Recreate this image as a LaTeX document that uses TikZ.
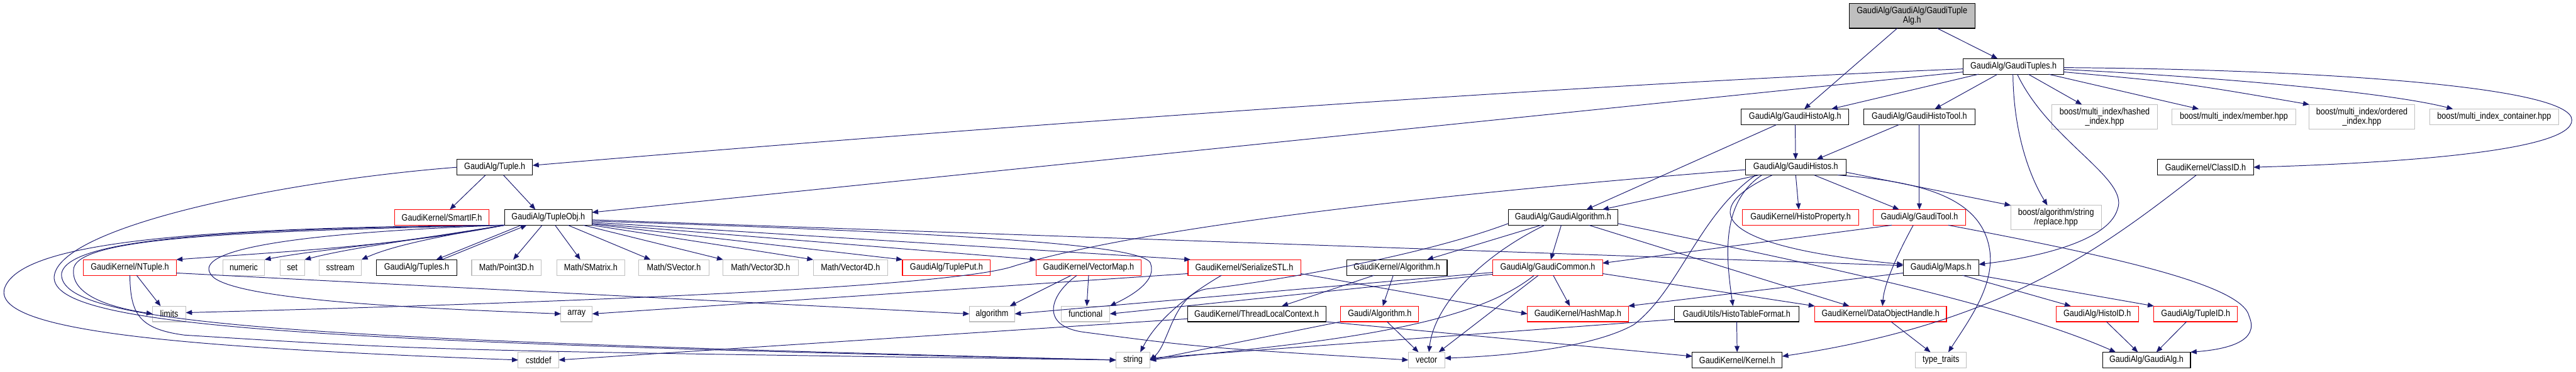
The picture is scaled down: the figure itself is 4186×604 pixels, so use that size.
\documentclass[tikz,border=0pt]{standalone}
\usepackage{fontspec}
\setmainfont{Liberation Sans}[FakeStretch=0.86]
\usetikzlibrary{arrows.meta}
\definecolor{edgeblue}{HTML}{191970}
\definecolor{grey75}{HTML}{BFBFBF}
\tikzset{
  nd/.style={draw, line width=1.1pt, inner sep=0pt, outer sep=0pt, minimum height=25.5pt,
             font=\fontsize{15}{15}\selectfont, align=center, text=black},
  bk/.style={nd, draw=black},
  rd/.style={nd, draw=red},
  gy/.style={nd, draw=grey75},
  conn/.style={draw=edgeblue, line width=1pt, -{Triangle[length=10pt,width=8pt]}}
}
\begin{document}
\begin{tikzpicture}[x=1pt,y=-1pt]
\path[use as bounding box] (0,0) rectangle (4186,604);
% row 1-4
\node[bk,fill=grey75,minimum width=204pt,minimum height=40pt] (root) at (3107,26) {GaudiAlg/GaudiAlg/GaudiTuple\\Alg.h};
\node[bk,minimum width=163pt] (tuples) at (3272,108) {GaudiAlg/GaudiTuples.h};
\node[bk,minimum width=175pt] (histoalg) at (2917,190) {GaudiAlg/GaudiHistoAlg.h};
\node[bk,minimum width=180pt] (histotool) at (3119,190) {GaudiAlg/GaudiHistoTool.h};
\node[gy,minimum width=171pt,minimum height=40pt] (hashed) at (3420,190) {boost/multi\_index/hashed\\\_index.hpp};
\node[gy,minimum width=201pt] (member) at (3630,190) {boost/multi\_index/member.hpp};
\node[gy,minimum width=171pt,minimum height=40pt] (ordered) at (3838,190) {boost/multi\_index/ordered\\\_index.hpp};
\node[gy,minimum width=209pt] (container) at (4053,190) {boost/multi\_index\_container.hpp};
\node[bk,minimum width=123pt] (tuple) at (804,272) {GaudiAlg/Tuple.h};
\node[bk,minimum width=163pt] (histos) at (2918,272) {GaudiAlg/GaudiHistos.h};
\node[bk,minimum width=156pt] (classid) at (3584,272) {GaudiKernel/ClassID.h};
% row 5
\node[rd,minimum width=154pt] (smartif) at (718,353.5) {GaudiKernel/SmartIF.h};
\node[bk,minimum width=142pt] (tupleobj) at (891,353.5) {GaudiAlg/TupleObj.h};
\node[bk,minimum width=178pt] (galgo) at (2540,353.5) {GaudiAlg/GaudiAlgorithm.h};
\node[rd,minimum width=189pt] (histoprop) at (2926,353.5) {GaudiKernel/HistoProperty.h};
\node[rd,minimum width=150pt] (gtool) at (3119,353.5) {GaudiAlg/GaudiTool.h};
\node[gy,minimum width=147pt,minimum height=40pt] (replace) at (3341,354) {boost/algorithm/string\\/replace.hpp};
% row 6
\node[rd,minimum width=151pt] (ntuple) at (211,435) {GaudiKernel/NTuple.h};
\node[gy,minimum width=68pt] (numeric) at (396,435) {numeric};
\node[gy,minimum width=40pt] (set) at (475,435) {set};
\node[gy,minimum width=69pt] (sstream) at (553,435) {sstream};
\node[bk,minimum width=130pt] (tuplesh) at (677,435) {GaudiAlg/Tuples.h};
\node[gy,minimum width=113pt] (point) at (823,435) {Math/Point3D.h};
\node[gy,minimum width=111pt] (smatrix) at (960,435) {Math/SMatrix.h};
\node[gy,minimum width=114pt] (svector) at (1095,435) {Math/SVector.h};
\node[gy,minimum width=122pt] (vthree) at (1236,435) {Math/Vector3D.h};
\node[gy,minimum width=121pt] (vfour) at (1382,435) {Math/Vector4D.h};
\node[rd,minimum width=143pt] (tupleput) at (1538,435) {GaudiAlg/TuplePut.h};
\node[rd,minimum width=171pt] (vecmap) at (1769,435) {GaudiKernel/VectorMap.h};
\node[rd,minimum width=183pt] (serial) at (2022,435) {GaudiKernel/SerializeSTL.h};
\node[bk,minimum width=163pt] (kalgo) at (2270,435) {GaudiKernel/Algorithm.h};
\node[rd,minimum width=178pt] (common) at (2515,435) {GaudiAlg/GaudiCommon.h};
\node[bk,minimum width=123pt] (maps) at (3154,435) {GaudiAlg/Maps.h};
% row 7
\node[gy,minimum width=54pt] (limits) at (275,510.5) {limits};
\node[gy,minimum width=51pt] (array) at (937,510.5) {array};
\node[gy,minimum width=74pt] (algorithm) at (1612,510.5) {algorithm};
\node[gy,minimum width=79pt] (functional) at (1764,510.5) {functional};
\node[bk,minimum width=225pt] (tlc) at (2042,510.5) {GaudiKernel/ThreadLocalContext.h};
\node[rd,minimum width=127pt] (galg) at (2242,510.5) {Gaudi/Algorithm.h};
\node[rd,minimum width=164pt] (hashmap) at (2564,510.5) {GaudiKernel/HashMap.h};
\node[bk,minimum width=203pt] (htf) at (2822,510.5) {GaudiUtils/HistoTableFormat.h};
\node[rd,minimum width=214pt] (doh) at (3056,510.5) {GaudiKernel/DataObjectHandle.h};
\node[rd,minimum width=134pt] (histoid) at (3408,510.5) {GaudiAlg/HistoID.h};
\node[rd,minimum width=136pt] (tupleid) at (3568,510.5) {GaudiAlg/TupleID.h};
% row 8
\node[gy,minimum width=66pt] (cstddef) at (875,585.5) {cstddef};
\node[gy,minimum width=55pt] (string) at (1841,585.5) {string};
\node[gy,minimum width=59pt] (vector) at (2318,585.5) {vector};
\node[bk,minimum width=146pt] (kernel) at (2823,585.5) {GaudiKernel/Kernel.h};
\node[gy,minimum width=83pt] (typetraits) at (3154,585.5) {type\_traits};
\node[bk,minimum width=143pt] (gaudialg) at (3488,585.5) {GaudiAlg/GaudiAlg.h};

% ---- edges: root
\draw[conn] ([xshift=-24pt]root.south) -- ([xshift=15pt]histoalg.north);
\draw[conn] ([xshift=41pt]root.south) -- ([xshift=-26pt]tuples.north);
% ---- GaudiTuples.h
\draw[conn] ([xshift=-57pt]tuples.south) -- ([xshift=59pt]histoalg.north);
\draw[conn] ([xshift=-26pt]tuples.south) -- ([xshift=25pt]histotool.north);
\draw[conn] ([xshift=24pt]tuples.south) -- ([xshift=-37pt]hashed.north);
\draw[conn] ([xshift=57pt]tuples.south) -- ([xshift=-57pt]member.north);
\draw[conn] ([yshift=-9pt]tuples.east) .. controls (3550,135) .. (ordered.north west);
\draw[conn] ([yshift=-5pt]tuples.east) .. controls (3600,125) and (3880,150) .. ([xshift=-67pt]container.north);
\draw[conn] ([yshift=-2pt]tuples.east) .. controls (3700,112) and (4150,135) .. (4178,190) .. controls (4200,245) and (3900,265) .. (classid.east);
\draw[conn] ([xshift=-1pt]tuples.south) .. controls (3272,220) and (3300,290) .. ([xshift=-14pt]replace.north);
\draw[conn] ([xshift=6pt]tuples.south) .. controls (3330,230) and (3460,290) .. (3441,340) .. controls (3425,395) and (3300,420) .. ([yshift=5pt]maps.east);
\draw[conn] ([yshift=-4pt]tuples.west) .. controls (2500,140) and (1500,215) .. ([yshift=3pt]tuple.east);
\draw[conn] ([yshift=-9pt]tuples.west) -- ([yshift=8pt]tupleobj.east);
% ---- histo algs / tools
\draw[conn] (histoalg) -- (histos);
\draw[conn] ([xshift=-30pt]histoalg.south) -- ([xshift=38pt]galgo.north);
\draw[conn] ([xshift=-33pt]histotool.south) -- ([xshift=34pt]histos.north);
\draw[conn] (histotool) -- (gtool);
% ---- GaudiHistos.h
\draw[conn] ([xshift=-60pt]histos.south) -- ([xshift=64pt]galgo.north);
\draw[conn] (histos.south) -- ([xshift=-3pt]histoprop.north);
\draw[conn] ([xshift=30pt]histos.south) -- ([xshift=-33pt]gtool.north);
\draw[conn] ([yshift=-8pt]histos.east) -- (replace.north west);
\draw[conn] ([xshift=68pt]histos.south) .. controls (3120,295) and (3215,320) .. (3232,400) .. controls (3245,460) and (3200,520) .. ([xshift=12pt]typetraits.north);
\draw[conn] ([xshift=-38pt]histos.south) .. controls (2760,340) and (2780,400) .. ([yshift=5pt]maps.west);
\draw[conn] ([xshift=-55pt]histos.south) .. controls (2795,330) and (2805,420) .. ([xshift=-6pt]htf.north);
\draw[conn] ([xshift=-65pt]histos.south) .. controls (2760,350) and (2730,470) .. (2655,528) .. controls (2580,570) and (2420,580) .. ([yshift=3pt]vector.east);
\draw[conn] ([yshift=-4pt]histos.west) .. controls (2300,318) and (1850,372) .. (1650,432) .. controls (1560,465) and (1000,490) .. ([yshift=2pt]limits.east);
% ---- Tuple.h
\draw[conn] ([xshift=-15pt]tuple.south) -- ([xshift=13pt]smartif.north);
\draw[conn] ([xshift=14pt]tuple.south) -- ([xshift=-21pt]tupleobj.north);
\draw[conn] (tuple.west) .. controls (450,295) and (95,370) .. (88,450) .. controls (84,532) and (500,556) .. (string.west);
% ---- TupleObj.h
\draw[conn] ([yshift=-4pt]tupleobj.east) -- ([yshift=3pt]maps.west);
\draw[conn] ([yshift=-6pt]tupleobj.east) .. controls (1600,380) and (1870,400) .. (1870,430) .. controls (1880,460) and (1830,485) .. (functional.north east);
\draw[conn] ([yshift=-8pt]tupleobj.east) -- ([xshift=4pt]serial.north west);
\draw[conn] ([yshift=-10pt]tupleobj.east) -- (vecmap.north west);
\draw[conn] ([yshift=-11pt]tupleobj.east) -- (tupleput.north west);
\draw[conn] (tupleobj.south east) -- (vfour.north west);
\draw[conn] ([xshift=57pt]tupleobj.south) -- (vthree.north west);
\draw[conn] ([xshift=32pt]tupleobj.south) -- ([xshift=-38pt]svector.north);
\draw[conn] ([xshift=11pt]tupleobj.south) -- ([xshift=-17pt]smatrix.north);
\draw[conn] ([xshift=-10pt]tupleobj.south) -- ([xshift=11pt]point.north);
\draw[conn] ([xshift=-44pt]tupleobj.south) -- ([xshift=32pt]tuplesh.north);
\draw[conn] ([xshift=41pt]tuplesh.north) -- ([xshift=-35pt]tupleobj.south);
\draw[conn] (tupleobj.south west) .. controls (690,388) and (630,403) .. (sstream.north east);
\draw[conn] (tupleobj.south west) .. controls (660,392) and (570,403) .. (set.north east);
\draw[conn] (tupleobj.south west) .. controls (650,396) and (520,405) .. (numeric.north east);
\draw[conn] (tupleobj.south west) .. controls (650,400) and (450,410) .. (ntuple.north east);
\draw[conn] ([xshift=-3pt]tupleobj.south west) .. controls (450,380) and (300,410) .. (348,452) .. controls (400,490) and (700,502) .. (array.west);
\draw[conn] (tupleobj.south west) .. controls (400,376) and (135,385) .. (120,435) .. controls (112,480) and (180,500) .. (limits.west);
\draw[conn] (tupleobj.south west) .. controls (400,372) and (110,385) .. (100,445) .. controls (95,530) and (500,552) .. (string.west);
\draw[conn] (tupleobj.south west) .. controls (300,370) and (30,395) .. (7,470) .. controls (-10,540) and (300,565) .. (cstddef.west);
% ---- NTuple.h
\draw[conn] ([xshift=11pt]ntuple.south) -- ([xshift=-14pt]limits.north);
\draw[conn] ([yshift=-9pt]ntuple.east) -- (algorithm.west);
\draw[conn] (ntuple.south) .. controls (212,510) and (225,535) .. (300,545) .. controls (700,570) .. (string.west);
% ---- SerializeSTL.h
\draw[conn] ([yshift=-10pt]serial.west) -- (array.east);
\draw[conn] ([xshift=-37pt]serial.south) .. controls (1930,480) and (1880,520) .. ([xshift=12pt]string.north);
\draw[conn] ([yshift=-10pt]serial.east) -- (hashmap.west);
% ---- VectorMap.h
\draw[conn] ([xshift=-28pt]vecmap.south) -- ([xshift=29pt]algorithm.north);
\draw[conn] (vecmap.south) -- ([xshift=2pt]functional.north);
\draw[conn] ([xshift=-19pt]vecmap.south) .. controls (1705,480) and (1690,530) .. (1760,540) .. controls (1950,565) .. (vector.west);
% ---- GaudiAlgorithm.h
\draw[conn] ([xshift=-36pt]galgo.south) -- ([xshift=49pt]kalgo.north);
\draw[conn] ([xshift=-3pt]galgo.south) -- ([xshift=5pt]common.north);
\draw[conn] ([xshift=-30pt]galgo.south) .. controls (2400,420) and (2330,500) .. ([xshift=4pt]vector.north);
\draw[conn] ([yshift=-10pt]galgo.west) .. controls (2300,420) and (2050,460) .. (1960,470) .. controls (1905,480) and (1900,560) .. (string.east);
\draw[conn] ([xshift=42pt]galgo.south) -- ([xshift=-51pt]doh.north);
\draw[conn] ([yshift=-10pt]galgo.east) .. controls (2900,420) and (3250,490) .. ([xshift=-50pt]gaudialg.north);
% ---- GaudiCommon.h
\draw[conn] ([yshift=-8pt]common.west) -- (algorithm.east);
\draw[conn] ([yshift=-11pt]common.west) -- (functional.east);
\draw[conn] ([xshift=9pt]common.south) -- ([xshift=-13pt]hashmap.north);
\draw[conn] ([xshift=-15pt]common.south) -- ([xshift=20pt]vector.north);
\draw[conn] ([xshift=-22pt]common.south) .. controls (2380,540) and (2100,560) .. (string.east);
\draw[conn] ([yshift=-10pt]common.east) -- (doh.north west);
% ---- GaudiTool.h
\draw[conn] ([xshift=-45pt]gtool.south) -- ([yshift=7pt]common.east);
\draw[conn] ([xshift=-10pt]gtool.south) .. controls (3085,410) and (3062,460) .. ([xshift=3pt]doh.north);
\draw[conn] ([xshift=47pt]gtool.south) .. controls (3450,420) and (3645,465) .. (3655,515) .. controls (3672,555) and (3620,568) .. (gaudialg.north east);
% ---- Maps.h
\draw[conn] ([yshift=-9pt]maps.west) -- (hashmap.north east);
\draw[conn] ([xshift=35pt]maps.south) -- ([xshift=-43pt]histoid.north);
\draw[conn] (maps.south east) -- (tupleid.north west);
% ---- row 7 sources
\draw[conn] ([xshift=15pt]histoid.south) -- ([xshift=-14pt]gaudialg.north);
\draw[conn] ([xshift=-15pt]tupleid.south) -- ([xshift=16pt]gaudialg.north);
\draw[conn] ([xshift=17pt]doh.south) -- ([xshift=-17pt]typetraits.north);
\draw[conn] (htf) -- (kernel);
\draw[conn] ([yshift=-9pt]htf.west) -- ([yshift=3pt]string.east);
\draw[conn] (tlc.south east) -- ([yshift=6pt]kernel.west);
\draw[conn] ([yshift=-8pt]tlc.west) -- (cstddef.east);
\draw[conn] ([xshift=-37pt]kalgo.south) -- ([xshift=41pt]tlc.north);
\draw[conn] ([xshift=-6pt]kalgo.south) -- ([xshift=5pt]galg.north);
\draw[conn] (galg.south west) -- (string.east);
\draw[conn] ([xshift=12pt]galg.south) -- ([xshift=-13pt]vector.north);
% ---- ClassID.h
\draw[conn] ([xshift=-15pt]classid.south) .. controls (3420,400) and (3260,525) .. ([yshift=6pt]kernel.east);
\end{tikzpicture}
\end{document}
